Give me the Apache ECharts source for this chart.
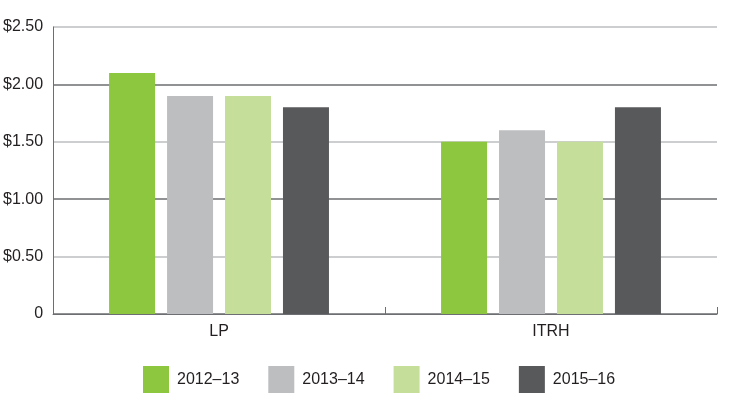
<!DOCTYPE html>
<html><head><meta charset="utf-8">
<script src="https://cdn.jsdelivr.net/npm/echarts@6/dist/echarts.min.js"></script>
<style>html,body{margin:0;padding:0;background:#fff}#c{width:744px;height:413px}</style>
</head><body><div id="c"></div>
<script>
const categories = ['LP', 'ITRH'];
const seriesNames = ['2012–13', '2013–14', '2014–15', '2015–16'];
const s2012 = [2.1, 1.5];
const s2013 = [1.9, 1.6];
const s2014 = [1.9, 1.5];
const s2015 = [1.8, 1.8];
const yTicks = ['0', '$0.50', '$1.00', '$1.50', '$2.00', '$2.50'];

const colors = ['#8dc63f', '#bcbec0', '#c5df9b', '#58595b'];
const values = [s2012, s2013, s2014, s2015];
const font = 'Liberation Sans, Arial, Helvetica, sans-serif';
const chart = echarts.init(document.getElementById('c'));
chart.setOption({
  animation: false,
  color: colors,
  grid: { left: 52, right: 27, top: 27, bottom: 99, containLabel: false },
  legend: {
    left: 143, top: 366, padding: 0, itemWidth: 26, itemHeight: 27, itemGap: 29,
    icon: 'rect',
    textStyle: { fontFamily: font, fontSize: 16, color: '#231f20', padding: [0,0,0,3] },
    data: seriesNames
  },
  xAxis: {
    type: 'category', data: categories,
    axisLine: { lineStyle: { color: '#6d6e71', width: 1 } },
    axisTick: { show: true, inside: true, length: 7, lineStyle: { color: '#6d6e71' } },
    axisLabel: { fontFamily: font, fontSize: 16, color: '#231f20', margin: 10 }
  },
  yAxis: {
    type: 'value', min: 0, max: 2.5, interval: 0.5,
    axisLine: { show: true, lineStyle: { color: '#6d6e71' } },
    axisTick: { show: false },
    axisLabel: { fontFamily: font, fontSize: 16, color: '#231f20', margin: 10,
      formatter: (v) => yTicks[Math.round(v / 0.5)] },
    splitLine: { show: true, lineStyle: { color: ['#6d6e71', '#bcbec0'], width: 1.5 } }
  },
  series: values.map((d, i) => ({
    name: seriesNames[i], type: 'bar', data: d, barWidth: 46, barGap: '26%',
    itemStyle: { color: colors[i] }
  }))
});
</script></body></html>
